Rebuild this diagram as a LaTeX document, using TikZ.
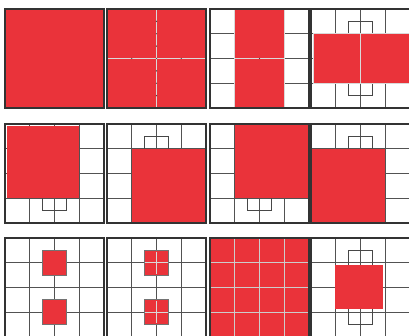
\documentclass[tikz,border=0pt]{standalone}
\definecolor{myred}{RGB}{234,51,58}
\tikzset{
  gridline/.style={draw=black!68, line width=1.1pt},
  panelborder/.style={draw=black!80, line width=1.4pt},
  redblk/.style={fill=myred, draw=black!15, line width=0.8pt},
  redsq/.style={fill=myred, draw=black!55, line width=1.1pt},
  bracketline/.style={draw=black!72, line width=1pt},
  panel/.style={x=24.75pt, y=-24.75pt},
}
\newcommand\drawgrid{%
  \fill[white] (0,0) rectangle (4,4);
  \foreach \i in {1,2,3} {
    \draw[gridline] (\i,0) -- (\i,4);
    \draw[gridline] (0,\i) -- (4,\i);
  }
}
\newcommand\drawbracket{\draw[bracketline] (1.5,0.5) rectangle (2.5,3.5);}
\newcommand\drawborder{\draw[panelborder] (0,0) rectangle (4,4);}
\begin{document}
\begin{tikzpicture}[x=1pt, y=-1pt]
\useasboundingbox (0,0) rectangle (409,335);
\fill[white] (0,0) rectangle (409,335);
% ---------- Row 1 ----------
\begin{scope}[shift={(5,9)}, panel]
  \drawgrid
  \fill[myred] (0,0) rectangle (4,4);
  \foreach \i in {1,2,3} {\draw[black!60, line width=0.8pt] (\i,0) -- (\i,0.06);}
  \drawborder
\end{scope}
\begin{scope}[shift={(107,9)}, panel]
  \drawgrid
  \foreach \a/\b in {0/0,2/0,0/2,2/2} {\draw[redblk] (\a,\b) rectangle ++(2,2);}
  \foreach \t in {0.5,1,1.5,2.5,3,3.5} {\fill[black!70] (2,\t) circle (0.7pt);}
  \foreach \t in {1,2,3} {\fill[black!70] (\t,2) circle (0.7pt);}
  \drawborder
\end{scope}
\begin{scope}[shift={(210,9)}, panel]
  \drawgrid
  \draw[redblk] (1,0) rectangle (3,2);
  \draw[redblk] (1,2) rectangle (3,4);
  \fill[black!70] (2,2) circle (0.7pt);
  \drawborder
\end{scope}
\begin{scope}[shift={(311,9)}, panel]
  \drawgrid
  \drawbracket
  \draw[redblk] (0.08,1) rectangle (2,3);
  \draw[redblk] (2,1) rectangle (4,3);
  \drawborder
\end{scope}
% ---------- Row 2 ----------
\begin{scope}[shift={(5,124)}, panel]
  \drawgrid
  \drawbracket
  \fill[myred] (0.08,0.08) rectangle (3,3);
  \drawborder
\end{scope}
\begin{scope}[shift={(107,124)}, panel]
  \drawgrid
  \drawbracket
  \fill[myred] (1,1) rectangle (3.94,3.94);
  \drawborder
\end{scope}
\begin{scope}[shift={(210,124)}, panel]
  \drawgrid
  \drawbracket
  \fill[myred] (1,0.06) rectangle (3.97,3);
  \drawborder
\end{scope}
\begin{scope}[shift={(311,124)}, panel]
  \drawgrid
  \drawbracket
  \fill[myred] (0.06,1) rectangle (3,3.95);
  \drawborder
\end{scope}
% ---------- Row 3 ----------
\begin{scope}[shift={(5,238)}, panel]
  \drawgrid
  \draw[redsq] (1.5,0.5) rectangle (2.5,1.5);
  \draw[redsq] (1.5,2.5) rectangle (2.5,3.5);
  \drawborder
\end{scope}
\begin{scope}[shift={(107,238)}, panel]
  \drawgrid
  \draw[redsq] (1.5,0.5) rectangle (2.5,1.5);
  \draw[redsq] (1.5,2.5) rectangle (2.5,3.5);
  \draw[white!85!black, line width=1pt] (2,0.55) -- (2,1.45) (1.55,1) -- (2.45,1);
  \draw[white!85!black, line width=1pt] (2,2.55) -- (2,3.45) (1.55,3) -- (2.45,3);
  \drawborder
\end{scope}
\begin{scope}[shift={(210,238)}, panel]
  \drawgrid
  \foreach \a in {0,1,2,3} {
    \foreach \b in {0,1,2,3} {
      \draw[redblk, draw=white!80!black] (\a,\b) rectangle ++(1,1);
    }
  }
  \drawborder
\end{scope}
\begin{scope}[shift={(311,238)}, panel]
  \drawgrid
  \drawbracket
  \fill[myred] (0.98,1.08) rectangle (2.92,2.85);
  \drawborder
\end{scope}
\end{tikzpicture}
\end{document}
